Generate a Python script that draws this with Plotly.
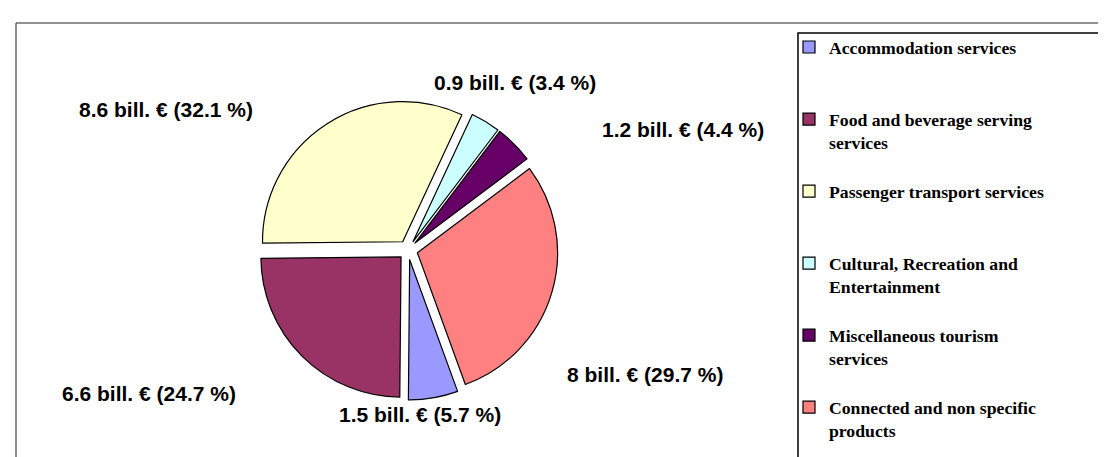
import plotly.graph_objects as go

# ---- data ----
categories = [
    "Accommodation services",
    "Food and beverage serving services",
    "Passenger transport services",
    "Cultural, Recreation and Entertainment",
    "Miscellaneous tourism services",
    "Connected and non specific products",
]
legend_labels = [
    "<b>Accommodation services</b><br> <br> ",
    "<b>Food and beverage serving</b><br><b>services</b><br> ",
    "<b>Passenger transport services</b><br> <br> ",
    "<b>Cultural, Recreation and</b><br><b>Entertainment</b><br> ",
    "<b>Miscellaneous tourism</b><br><b>services</b><br> ",
    "<b>Connected and non specific</b><br><b>products</b>",
]
billions = [1.5, 6.6, 8.6, 0.9, 1.2, 8]
percents = [5.7, 24.7, 32.1, 3.4, 4.4, 29.7]

colors = ["#9999FF", "#993366", "#FFFFCC", "#CCFFFF", "#660066", "#FF8080"]

# label anchor positions (pixels in the 1106x457 page)
label_px = [(412, 406), (141, 385), (158, 101), (507, 75), (675, 122), (637, 366)]

W, H = 1106, 457

fig = go.Figure()
fig.add_trace(go.Pie(
    labels=legend_labels,
    values=percents,
    sort=False,
    direction="clockwise",
    rotation=160,
    pull=[0.07] * len(percents),
    marker=dict(colors=colors, line=dict(color="#000000", width=1.2)),
    textinfo="none",
    hoverinfo="label+value",
    domain=dict(x=[(400 - 155) / W, (400 + 155) / W], y=[1 - 392 / H, 1 - 92 / H]),
))

annotations = []
for b, p, (px, py) in zip(billions, percents, label_px):
    annotations.append(dict(
        x=px / W, y=1 - py / H, xref="paper", yref="paper",
        text=f"<b>{b} bill. € ({p} %)</b>", showarrow=False,
        font=dict(family="Liberation Sans, Arial", size=21, color="#000000"),
        xanchor="center", yanchor="middle",
    ))

shapes = [
    # outer chart border
    dict(type="rect", xref="paper", yref="paper",
         x0=8 / W, y0=-0.02, x1=1.02, y1=1 - 15 / H,
         line=dict(color="#222222", width=1)),
    # legend border
    dict(type="rect", xref="paper", yref="paper",
         x0=790 / W, y0=-0.02, x1=1.02, y1=1 - 25 / H,
         line=dict(color="#000000", width=1.5)),
]

fig.update_layout(
    width=W, height=H,
    margin=dict(l=0, r=0, t=0, b=0),
    paper_bgcolor="white", plot_bgcolor="white",
    annotations=annotations,
    shapes=shapes,
    showlegend=True,
    legend=dict(
        x=781 / W, y=1 - 21 / H, xanchor="left", yanchor="top",
        font=dict(family="Liberation Serif, Times New Roman", size=17.7, color="#000000"),
        valign="top", bgcolor="rgba(0,0,0,0)", borderwidth=0,
        traceorder="normal",
    ),
)

fig.write_html("out.html")
